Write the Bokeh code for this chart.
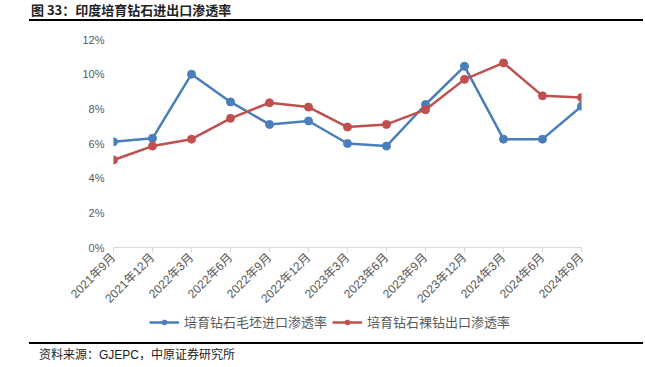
from bokeh.plotting import figure
from bokeh.models import (Range1d, FixedTicker, PrintfTickFormatter, Legend, LegendItem, Div)
from bokeh.layouts import column
from bokeh.embed import file_html
from bokeh.resources import INLINE
import math

# ---- data ----
months = ["2021年9月", "2021年12月", "2022年3月", "2022年6月", "2022年9月", "2022年12月",
          "2023年3月", "2023年6月", "2023年9月", "2023年12月", "2024年3月", "2024年6月", "2024年9月"]
rough_import = [6.1, 6.3, 10.0, 8.4, 7.1, 7.3, 6.0, 5.85, 8.25, 10.45, 6.25, 6.25, 8.15]
polished_export = [5.05, 5.85, 6.25, 7.45, 8.35, 8.1, 6.95, 7.1, 7.95, 9.7, 10.65, 8.75, 8.65]
y_ticks = [0, 2, 4, 6, 8, 10, 12]
series_names = ["培育钻石毛坯进口渗透率", "培育钻石裸钻出口渗透率"]
title_text = "图 33：印度培育钻石进出口渗透率"
source_text = "资料来源：GJEPC，中原证券研究所"

BLUE = "#4A7EBB"
RED = "#C0504D"
GREY = "#595959"
FONT = "Liberation Sans, Noto Sans CJK SC"

x = list(range(len(months)))

# ---- main chart ----
p = figure(width=645, height=290, output_backend="svg", toolbar_location=None,
           x_range=Range1d(0, len(months) - 1), y_range=Range1d(0, 12),
           min_border_left=113, min_border_right=64, min_border_top=16, min_border_bottom=64)
p.outline_line_color = None
p.xgrid.grid_line_color = None
p.ygrid.grid_line_color = None
p.background_fill_color = "white"
p.border_fill_color = "white"

p.line(x, rough_import, line_color=BLUE, line_width=2.5)
p.scatter(x, rough_import, size=8, fill_color=BLUE, line_color=BLUE)
p.line(x, polished_export, line_color=RED, line_width=2.5)
p.scatter(x, polished_export, size=8, fill_color=RED, line_color=RED)

xa = p.xaxis[0]
xa.ticker = FixedTicker(ticks=x)
xa.major_label_overrides = {i: m for i, m in zip(x, months)}
xa.major_label_orientation = math.pi / 4
xa.axis_line_color = "#D9D9D9"
xa.major_tick_line_color = "#D9D9D9"
xa.major_tick_in = 0
xa.major_tick_out = 5
xa.minor_tick_line_color = None
xa.major_label_text_color = GREY
xa.major_label_text_font = FONT
xa.major_label_text_font_size = "12px"
xa.major_label_standoff = 3

ya = p.yaxis[0]
ya.ticker = FixedTicker(ticks=y_ticks)
ya.formatter = PrintfTickFormatter(format="%d%%")
ya.axis_line_color = None
ya.major_tick_line_color = None
ya.minor_tick_line_color = None
ya.major_tick_in = 0
ya.major_tick_out = 0
ya.major_label_standoff = 9
ya.major_label_text_color = GREY
ya.major_label_text_font = FONT
ya.major_label_text_font_size = "11px"

# ---- legend strip (series drawn outside its visible range, only the legend shows) ----
lg = figure(width=645, height=18, output_backend="svg", toolbar_location=None,
            x_range=Range1d(0, 1), y_range=Range1d(0, 1),
            x_axis_type=None, y_axis_type=None,
            min_border_left=113, min_border_right=64, min_border_top=0, min_border_bottom=0)
lg.outline_line_color = None
lg.xgrid.grid_line_color = None
lg.ygrid.grid_line_color = None
l1 = lg.line(x, rough_import, line_color=BLUE, line_width=2.5)
s1 = lg.scatter(x, rough_import, size=8, fill_color=BLUE, line_color=BLUE)
l2 = lg.line(x, polished_export, line_color=RED, line_width=2.5)
s2 = lg.scatter(x, polished_export, size=8, fill_color=RED, line_color=RED)

legend = Legend(items=[LegendItem(label=series_names[0], renderers=[l1, s1]),
                       LegendItem(label=series_names[1], renderers=[l2, s2])],
                orientation="horizontal", location=(36, 0),
                glyph_width=30, glyph_height=12, label_height=14, label_standoff=5, spacing=5,
                padding=2, margin=0, border_line_color=None, background_fill_alpha=0,
                label_text_font="Noto Sans CJK SC", label_text_font_size="13px",
                label_text_color=GREY)
lg.add_layout(legend, "center")

title_div = Div(width=645, height=23, margin=0, text=(
    "<div style='margin-left:29px;width:614px;height:21px;border-bottom:2px solid #000;"
    "position:relative;'>"
    "<span style='position:absolute;left:2px;top:2px;font-family:\"Noto Sans CJK SC\";"
    "font-weight:bold;font-size:13px;line-height:16px;color:#222;white-space:nowrap;'>"
    + title_text + "</span></div>"))

source_div = Div(width=645, height=36, margin=0, text=(
    "<div style='margin-left:29px;margin-top:11px;width:614px;height:23px;border-top:2px solid #000;"
    "position:relative;'>"
    "<span style='position:absolute;left:10px;top:3px;font-family:\"Liberation Sans\",\"Noto Sans CJK SC\";"
    "font-size:12px;line-height:16px;color:#222;white-space:nowrap;'>"
    + source_text + "</span></div>"))

layout = column(title_div, p, lg, source_div, spacing=0)

open("out.html", "w").write(file_html(layout, INLINE))
